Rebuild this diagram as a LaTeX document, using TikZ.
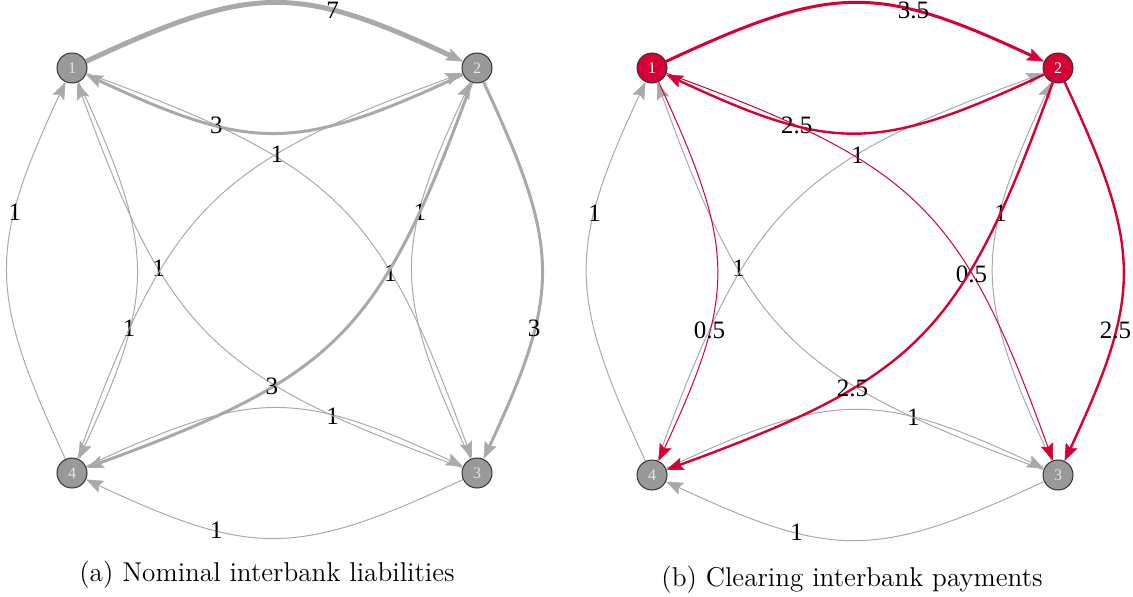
\documentclass[tikz,border=0pt]{standalone}
\usepackage{fontspec}
\usetikzlibrary{arrows.meta}
\newfontfamily\labelfont{Liberation Serif}
\definecolor{edgegray}{HTML}{A9A9A9}
\definecolor{nodegray}{HTML}{999999}
\definecolor{nodeline}{HTML}{333333}
\definecolor{nodetext}{HTML}{E6E6E6}
\definecolor{payred}{RGB}{214,0,52}
\tikzset{
  bank/.style={circle,draw=nodeline,line width=0.5pt,fill=nodegray,minimum size=15pt,inner sep=0pt,
    text=nodetext,font=\labelfont\fontsize{8}{8}\selectfont},
  paid/.style={bank,fill=payred,text=white},
  link/.style={draw=edgegray,line width=0.5pt,
    -{Stealth[length=8.5pt,width=6.5pt,inset=1.5pt,line width=0.3pt]},bend left=25,looseness=1.25},
  redlink/.style={link,draw=payred},
  wt/.style={pos=0.68,inner sep=0pt,text=black,font=\labelfont\fontsize{12.5}{12.5}\selectfont},
  caption/.style={inner sep=0pt,font=\fontsize{13.6}{16}\selectfont}
}
\begin{document}
\begin{tikzpicture}[x=0.5pt,y=0.5pt]
  \useasboundingbox (0,0) rectangle (1133,596);

  % (a) nominal liabilities
  \node[bank] (A1) at (72,528) {1};
  \node[bank] (A2) at (477,528) {2};
  \node[bank] (A3) at (477,123) {3};
  \node[bank] (A4) at (72,123) {4};
  \draw[link,line width=2.5pt] (A1) to node[wt] {7} (A2);
  \draw[link,line width=1.5pt] (A2) to node[wt] {3} (A1);
  \draw[link] (A1) to node[wt] {1} (A4);
  \draw[link] (A4) to node[wt] {1} (A1);
  \draw[link,line width=1.5pt] (A2) to node[wt] {3} (A3);
  \draw[link] (A3) to node[wt] {1} (A2);
  \draw[link] (A3) to node[wt] {1} (A4);
  \draw[link] (A4) to node[wt] {1} (A3);
  \draw[link] (A1) to node[wt] {1} (A3);
  \draw[link] (A3) to node[wt] {1} (A1);
  \draw[link,line width=1.5pt] (A2) to node[wt] {3} (A4);
  \draw[link] (A4) to node[wt] {1} (A2);
  \node[caption] (capA) at (267,21) {(a) Nominal interbank liabilities};

  % (b) clearing payments
  \begin{scope}[xshift=290pt]
    \node[paid] (B1) at (72,528) {1};
    \node[paid] (B2) at (478,528) {2};
    \node[bank] (B3) at (478,121) {3};
    \node[bank] (B4) at (72,121) {4};
    \draw[link] (B4) to node[wt] {1} (B1);
    \draw[link] (B3) to node[wt] {1} (B2);
    \draw[link] (B3) to node[wt] {1} (B4);
    \draw[link] (B4) to node[wt] {1} (B3);
    \draw[link] (B3) to node[wt] {1} (B1);
    \draw[link] (B4) to node[wt] {1} (B2);
    \draw[redlink,line width=1.5pt] (B1) to node[wt] {3.5} (B2);
    \draw[redlink,line width=1.2pt] (B2) to node[wt] {2.5} (B1);
    \draw[redlink] (B1) to node[wt] {0.5} (B4);
    \draw[redlink,line width=1.2pt] (B2) to node[wt] {2.5} (B3);
    \draw[redlink] (B1) to node[wt] {0.5} (B3);
    \draw[redlink,line width=1.2pt] (B2) to node[wt] {2.5} (B4);
    \node[caption] (capB) at (272,16) {(b) Clearing interbank payments};
  \end{scope}
\end{tikzpicture}
\end{document}
